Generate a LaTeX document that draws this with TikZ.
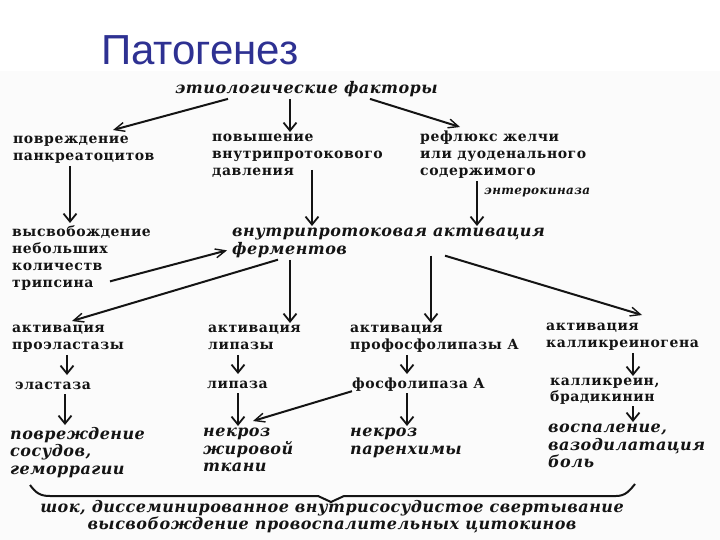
\documentclass[tikz,border=0pt]{standalone}
\usepackage{fontspec}
\setmainfont{DejaVu Serif}
\newfontfamily\diagup[LetterSpace=4]{DejaVu Serif}
\newfontfamily\diagit[LetterSpace=3]{DejaVu Serif}
\newfontfamily\slidefont{Liberation Sans}
\usetikzlibrary{arrows.meta}
\definecolor{slideBlue}{HTML}{2E3192}
\definecolor{inkGray}{HTML}{141414}
\definecolor{sheetGray}{HTML}{FBFBFB}
\tikzset{
  plain label/.style={anchor=north west, inner sep=0pt, align=left,
    text=inkGray, font=\diagup\bfseries\fontsize{14}{17}\selectfont,
    execute at begin node=\strut, execute at end node=\strut},
  italic label/.style={plain label,
    font=\diagit\bfseries\itshape\fontsize{16}{17.5}\selectfont},
  small label/.style={anchor=west, inner sep=0pt, text=inkGray,
    font=\diagit\bfseries\itshape\fontsize{12}{13}\selectfont},
  flow/.style={-{Straight Barb[length=8pt,width=13pt,line width=1.8pt]},
    line width=2.8pt, draw=inkGray, shorten >=2pt},
  flow diag/.style={-{Straight Barb[length=10pt,width=9pt,line width=1.4pt]},
    line width=2pt, draw=inkGray},
  title text/.style={anchor=base west, inner sep=0pt, text=slideBlue,
    font=\slidefont\fontsize{42}{48}\selectfont},
  brace line/.style={line width=2pt, draw=inkGray, line join=round}
}
\begin{document}
\begin{tikzpicture}[x=1pt,y=-1pt]
  \useasboundingbox (0,0) rectangle (720,540);
  \fill[sheetGray] (0,71) rectangle (720,540);
  \node[title text] (title) at (101,65) {Патогенез};

  % causes
  \node[italic label] (etio) at (175,81) {этиологические факторы};
  \node[plain label] (injury) at (13,136) {повреждение\\панкреатоцитов};
  \node[plain label] (press) at (212,134)
    {повышение\\внутрипротокового\\давления};
  \node[plain label] (reflux) at (420,131)
    {рефлюкс желчи\\или дуоденального\\содержимого};
  \node[small label] (enterok) at (484,193) {энтерокиназа};
  \node[plain label] (release) at (12,225)
    {высвобождение\\небольших\\количеств\\трипсина};
  \node[italic label] (intra) at (232,228)
    {внутрипротоковая активация\\ферментов};

  % enzymes
  \node[plain label] (proel) at (12,325) {активация\\проэластазы};
  \node[plain label] (lipact) at (208,325) {активация\\липазы};
  \node[plain label] (phosact) at (350,325) {активация\\профосфолипазы А};
  \node[plain label] (kallact) at (546,323) {активация\\калликреиногена};
  \node[plain label] (elast) at (15,377) {эластаза};
  \node[plain label] (lipase) at (207,376) {липаза};
  \node[plain label] (phos) at (352,376) {фосфолипаза А};
  \node[plain label, font=\diagup\bfseries\fontsize{14}{15.5}\selectfont]
    (kallik) at (550,378) {калликреин,\\брадикинин};

  % effects
  \node[italic label] (vessel) at (10,427) {повреждение\\сосудов,\\геморрагии};
  \node[italic label] (fatnec) at (203,428) {некроз\\жировой\\ткани};
  \node[italic label] (parnec) at (350,428) {некроз\\паренхимы};
  \node[italic label] (inflam) at (548,424)
    {воспаление,\\вазодилатация\\боль};
  \node[italic label, anchor=north, align=center,
    font=\diagit\bfseries\itshape\fontsize{16}{15.5}\selectfont] (shock) at (332,500)
    {шок, диссеминированное внутрисосудистое свертывание\\высвобождение провоспалительных цитокинов};

  \draw[flow diag] ([xshift=53pt]etio.south west) -- ([xshift=100pt,yshift=6pt]injury.north west);
  \draw[flow] ([xshift=115pt]etio.south west) -- ([xshift=78pt]press.north west);
  \draw[flow diag] ([xshift=195pt]etio.south west) -- ([xshift=40pt,yshift=4pt]reflux.north west);
  \draw[flow] ([xshift=57pt]injury.south west) -- ([xshift=58pt]release.north west);
  \draw[flow] ([xshift=100pt,yshift=11pt]press.south west) -- ([xshift=80pt]intra.north west);
  \draw[flow] ([xshift=57pt]reflux.south west) -- ([xshift=245pt]intra.north west);
  \draw[flow diag] ([xshift=98pt,yshift=11pt]release.south west) -- ([xshift=-5pt,yshift=-6.5pt]intra.west);
  \draw[flow diag] ([xshift=46pt]intra.south west) -- ([xshift=60pt,yshift=4pt]proel.north west);
  \draw[flow] ([xshift=58pt]intra.south west) -- ([xshift=82pt]lipact.north west);
  \draw[flow] ([xshift=199pt,yshift=4pt]intra.south west) -- ([xshift=81pt]phosact.north west);
  \draw[flow diag] ([xshift=213pt,yshift=4pt]intra.south west) -- ([xshift=96pt,yshift=8pt]kallact.north west);
  \draw[flow] ([xshift=55pt]proel.south west) -- ([xshift=52pt]elast.north west);
  \draw[flow] ([xshift=50pt]elast.south west) -- ([xshift=55pt]vessel.north west);
  \draw[flow] ([xshift=30pt]lipact.south west) -- ([xshift=31pt]lipase.north west);
  \draw[flow] ([xshift=31pt]lipase.south west) -- ([xshift=35pt]fatnec.north west);
  \draw[flow diag] ([yshift=-6.5pt]phos.west) -- ([xshift=50pt,yshift=7pt]fatnec.north west);
  \draw[flow] ([xshift=57pt]phosact.south west) -- ([xshift=55pt]phos.north west);
  \draw[flow] ([xshift=55pt]phos.south west) -- ([xshift=57pt]parnec.north west);
  \draw[flow] ([xshift=87pt]kallact.south west) -- ([xshift=83pt]kallik.north west);
  \draw[flow] ([xshift=83pt]kallik.south west) -- ([xshift=85pt]inflam.north west);

  % brace over the common outcome
  \draw[brace line] (30,485) .. controls (36,493) and (40,496) .. (50,496)
    -- (318,496) -- (331,502) -- (344,496) -- (616,496)
    .. controls (626,496) and (630,490) .. (635,484);
\end{tikzpicture}
\end{document}
